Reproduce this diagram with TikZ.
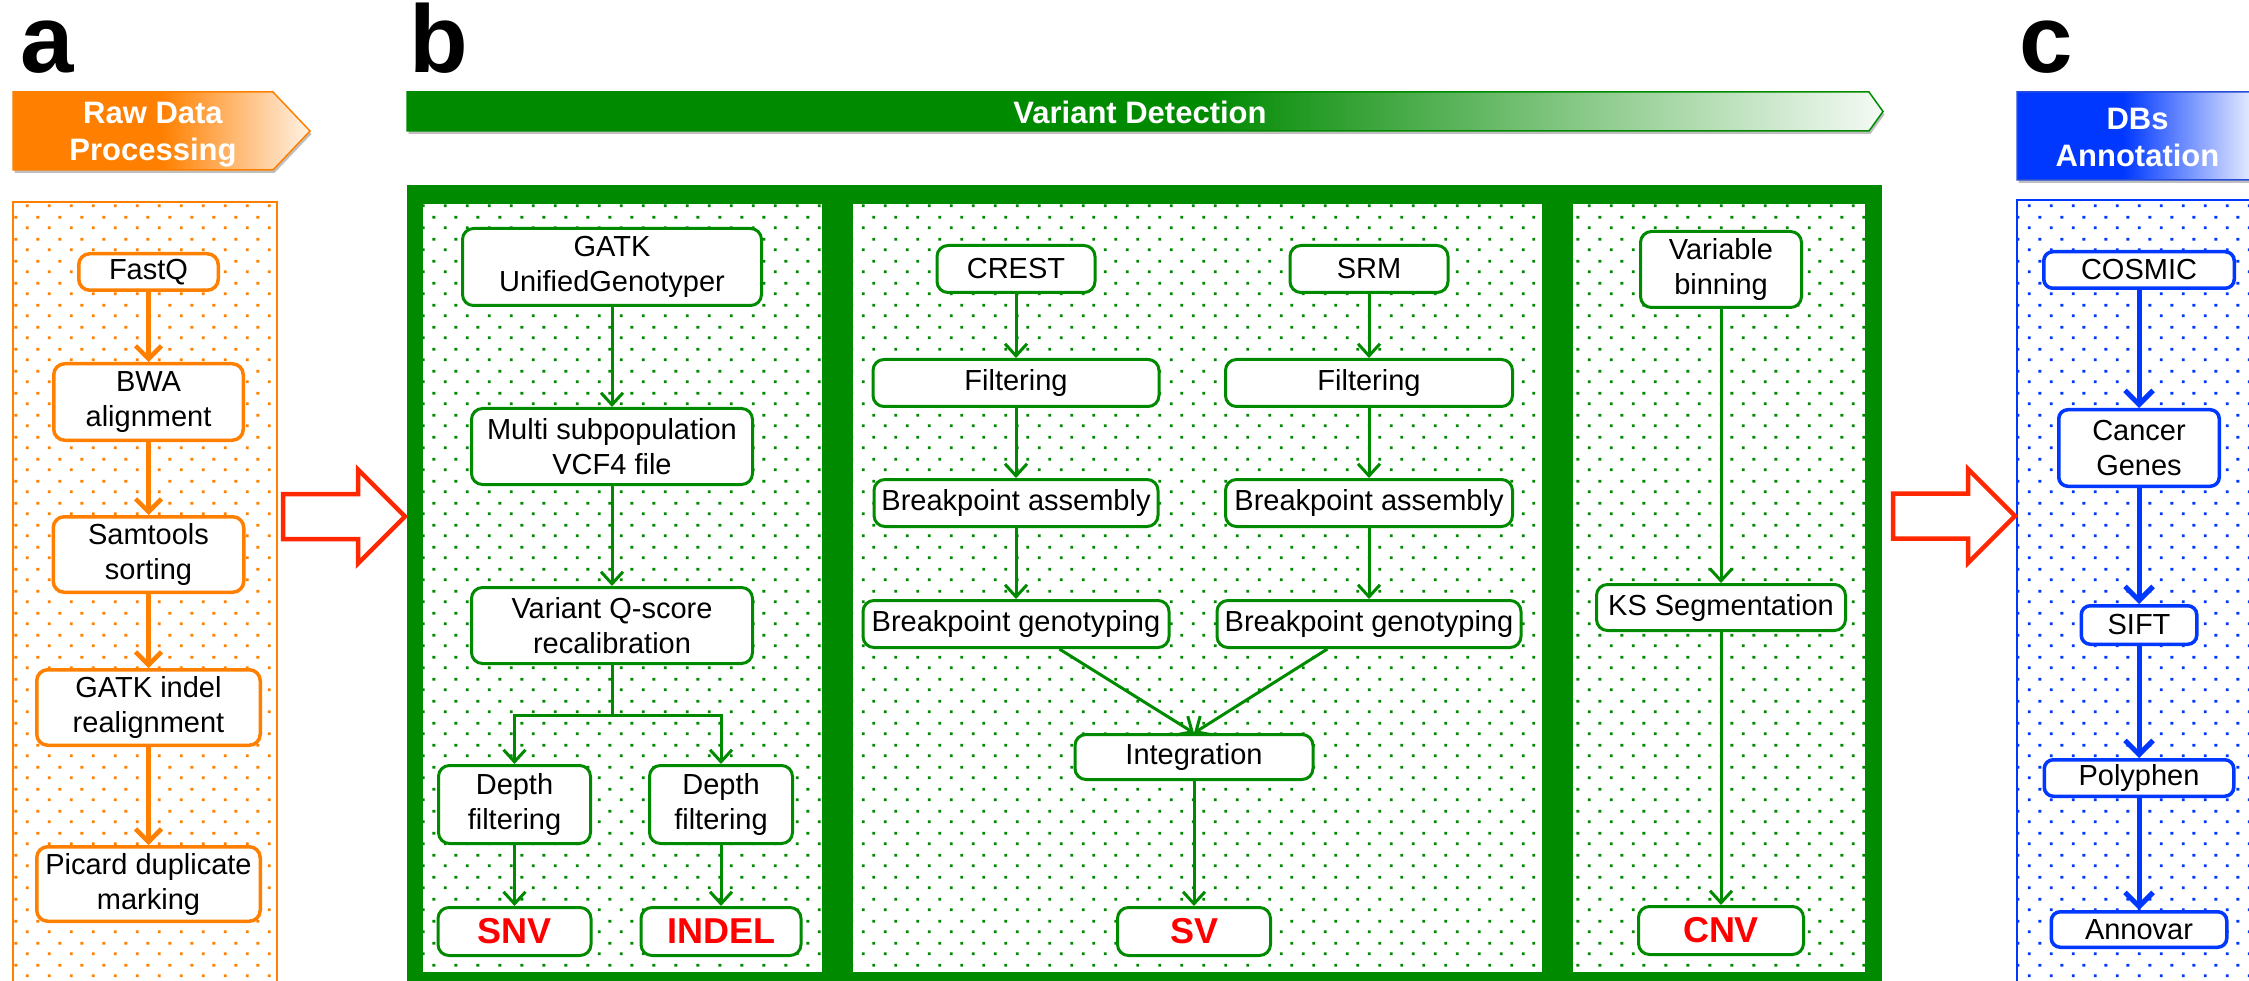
\documentclass[tikz,border=0pt]{standalone}
\usepackage{fontspec}
\setmainfont{Liberation Sans}
\usepackage{tikz}
\usetikzlibrary{arrows.meta,calc,positioning,patterns.meta,shadows}

\definecolor{rawor}{RGB}{255,128,0}
\definecolor{vdgr}{RGB}{0,138,0}
\definecolor{dbbl}{RGB}{0,56,255}
\definecolor{bigred}{RGB}{255,40,0}

% staggered dot fill of the panels
\pgfdeclarepattern{
	name=stagdots, type=uncolored,
	bottom left={\pgfpoint{0pt}{0pt}}, top right={\pgfpoint{22pt}{22pt}},
	tile size={\pgfpoint{22pt}{22pt}},
	code={
		\pgfpathrectangle{\pgfpoint{4pt}{4pt}}{\pgfpoint{3pt}{3pt}}
		\pgfpathrectangle{\pgfpoint{15pt}{15pt}}{\pgfpoint{3pt}{3pt}}
		\pgfusepath{fill}}}
\pgfdeclarehorizontalshading{rawfade}{100bp}{color(0bp)=(rawor); color(25bp)=(rawor); color(50bp)=(rawor); color(75bp)=(rawor!10); color(100bp)=(rawor!10)}
\pgfdeclarehorizontalshading{vdfade}{100bp}{color(0bp)=(vdgr); color(25bp)=(vdgr); color(52bp)=(vdgr); color(75bp)=(vdgr!4); color(100bp)=(vdgr!4)}
\pgfdeclarehorizontalshading{dbfade}{100bp}{color(0bp)=(dbbl); color(25bp)=(dbbl); color(42bp)=(dbbl); color(62bp)=(dbbl!12); color(75bp)=(dbbl!5); color(100bp)=(dbbl!5)}

\tikzset{
	flow box/.style 2 args={draw, fill=white, rounded corners=11pt, align=center,
		inner sep=0pt, minimum width=#1pt, minimum height=#2pt,
		font=\fontsize{29}{35}\selectfont},
	raw box/.style 2 args={flow box={#1}{#2}, draw=rawor, line width=3.5pt},
	vd box/.style 2 args={flow box={#1}{#2}, draw=vdgr, line width=3pt},
	db box/.style 2 args={flow box={#1}{#2}, draw=dbbl, line width=3.5pt, rounded corners=9pt},
	call/.style={text=red, font=\fontsize{36}{40}\selectfont\bfseries},
	raw ar/.style={draw=rawor, line width=4.5pt, -{Straight Barb[length=13pt,width=26pt]}},
	vd ar/.style={draw=vdgr, line width=3pt, -{Straight Barb[length=12pt,width=22pt]}},
	db ar/.style={draw=dbbl, line width=5pt, -{Straight Barb[length=14pt,width=28pt]}},
	panel dots/.style={preaction={fill=white}, pattern=stagdots, pattern color=#1},
	banner shadow/.style={drop shadow={shadow xshift=1.5pt, shadow yshift=-3pt, fill=black, opacity=.25}},
	banner text/.style={text=white, align=center, inner sep=0pt,
		font=\fontsize{31}{37}\selectfont\bfseries},
	panel tag/.style={anchor=base west, inner sep=0pt, font=\fontsize{96}{96}\selectfont\bfseries},
	hollow arrow/.pic={
		\draw[bigred, line width=4.5pt, fill=white]
			(0,-22.5) -- (75,-22.5) -- (75,-47) -- (122,0) -- (75,47) -- (75,22.5) -- (0,22.5) -- cycle;}
}

\begin{document}
\begin{tikzpicture}[x=1pt, y=-1pt]
	\useasboundingbox (0,0) rectangle (2249,981);
	\clip (0,0) rectangle (2249,981);

	% panels
	\path[panel dots=rawor, draw=rawor, line width=2pt] (13,202) rectangle (277,1010);
	\fill[vdgr] (407,185) rectangle (1882,1010);
	\foreach \l/\r in {423/822, 853/1542, 1573/1865}
		\path[panel dots=vdgr] (\l,204) rectangle (\r,972);
	\path[panel dots=dbbl, draw=dbbl, line width=2pt] (2017,200) rectangle (2300,1010);

	% stage banners
	\shadedraw[shading=rawfade, draw=rawor, line width=1.5pt, banner shadow]
		(13,92) -- (273,92) -- (310,131) -- (273,170) -- (13,170) -- cycle;
	\node[banner text] (rawtitle) at (153,135) {Raw Data\\Processing};
	\shadedraw[shading=vdfade, draw=vdgr, line width=1.5pt, banner shadow]
		(407,92) -- (1869,92) -- (1883,111.5) -- (1869,131) -- (407,131) -- cycle;
	\node[banner text] (vdtitle) at (1140,112.5) {Variant Detection};
	\shadedraw[shading=dbfade, draw=dbbl!70!gray, line width=1.5pt, banner shadow]
		(2017,92) -- (2300,92) -- (2330,136) -- (2300,180) -- (2017,180) -- cycle;
	\node[banner text] (dbtitle) at (2137.5,137.5) {DBs\\Annotation};

	\node[panel tag] (taga) at (20,73) {a};
	\node[panel tag] (tagb) at (409,73) {b};
	\node[panel tag] (tagc) at (2019,73) {c};

	% a: raw data processing
	\node[raw box={139.5}{36.5}] (fastq) at (148.5,272) {FastQ};
	\node[raw box={189.5}{76.5}, below=70pt of fastq] (bwa) {BWA\\alignment};
	\node[raw box={190.5}{75.5}, below=73pt of bwa] (samtools) {Samtools\\sorting};
	\node[raw box={223.5}{75.5}, below=74pt of samtools] (indelre) {GATK indel\\realignment};
	\node[raw box={223.5}{74.5}, below=98pt of indelre] (picard) {Picard duplicate\\marking};
	\foreach \a/\b in {fastq/bwa, bwa/samtools, samtools/indelre, indelre/picard}
		\draw[raw ar] (\a) -- (\b);

	% b: SNV / INDEL
	\node[vd box={299}{77}] (unigt) at (612,267) {GATK\\UnifiedGenotyper};
	\node[vd box={281}{76}, below=100pt of unigt] (vcf) {Multi subpopulation\\VCF4 file};
	\node[vd box={281}{76}, below=100pt of vcf] (vqsr) {Variant Q-score\\recalibration};
	\node[vd box={152}{78}] (depthsnv) at (514.5,804.5) {Depth\\filtering};
	\node[vd box={143}{78}] (depthind) at (721,804.5) {Depth\\filtering};
	\node[vd box={153}{48}, call, below=61pt of depthsnv] (snv) {SNV};
	\node[vd box={160}{48}, call, below=61pt of depthind] (indel) {INDEL};
	\coordinate (split) at ($(vqsr.south)+(0,50)$);
	\draw[vd ar] (unigt) -- (vcf);
	\draw[vd ar] (vcf) -- (vqsr);
	\draw[vd ar] (vqsr.south) -- (split) -| (depthsnv.north);
	\draw[vd ar] (split) -| (depthind.north);
	\draw[vd ar] (depthsnv) -- (snv);
	\draw[vd ar] (depthind) -- (indel);

	% b: SV
	\node[vd box={158}{47}] (crest) at (1016,269) {CREST};
	\node[vd box={286}{47}, below=64pt of crest] (filtcr) {Filtering};
	\node[vd box={284}{47}, below=70pt of filtcr] (asmcr) {Breakpoint assembly};
	\node[vd box={306}{47}, below=71pt of asmcr] (gtcr) {Breakpoint genotyping};
	\node[vd box={158}{47}] (srm) at (1369,269) {SRM};
	\node[vd box={287}{47}, below=64pt of srm] (filtsr) {Filtering};
	\node[vd box={287}{47}, below=70pt of filtsr] (asmsr) {Breakpoint assembly};
	\node[vd box={304}{47}, below=71pt of asmsr] (gtsr) {Breakpoint genotyping};
	\node[vd box={238}{45}] (integ) at (1194,757) {Integration};
	\node[vd box={153}{48}, call, below=125pt of integ] (sv) {SV};
	\foreach \a/\b in {crest/filtcr, filtcr/asmcr, asmcr/gtcr, srm/filtsr, filtsr/asmsr, asmsr/gtsr, integ/sv}
		\draw[vd ar] (\a) -- (\b);
	\draw[vd ar] (gtcr.-30) -- (integ.north);
	\draw[vd ar] (gtsr.-149) -- (integ.north);

	% b: CNV
	\node[vd box={161}{76}] (varbin) at (1721,269.5) {Variable\\binning};
	\node[vd box={249}{46}, below=274pt of varbin] (ksseg) {KS Segmentation};
	\node[vd box={165}{48}, call, below=273pt of ksseg] (cnv) {CNV};
	\draw[vd ar] (varbin) -- (ksseg);
	\draw[vd ar] (ksseg) -- (cnv);

	% c: annotation
	\node[db box={190.5}{36.5}] (cosmic) at (2139,270) {COSMIC};
	\node[db box={160.5}{76.5}, below=118pt of cosmic] (cangenes) {Cancer\\Genes};
	\node[db box={115.5}{38.5}, below=116pt of cangenes] (sift) {SIFT};
	\node[db box={189.5}{36.5}, below=112pt of sift] (polyphen) {Polyphen};
	\node[db box={175.5}{35.5}, below=112pt of polyphen] (annovar) {Annovar};
	\foreach \a/\b in {cosmic/cangenes, cangenes/sift, sift/polyphen, polyphen/annovar}
		\draw[db ar] (\a) -- (\b);

	% stage hand-over arrows
	\pic at (283,516.5) {hollow arrow};
	\pic at (1893,516) {hollow arrow};
\end{tikzpicture}
\end{document}
